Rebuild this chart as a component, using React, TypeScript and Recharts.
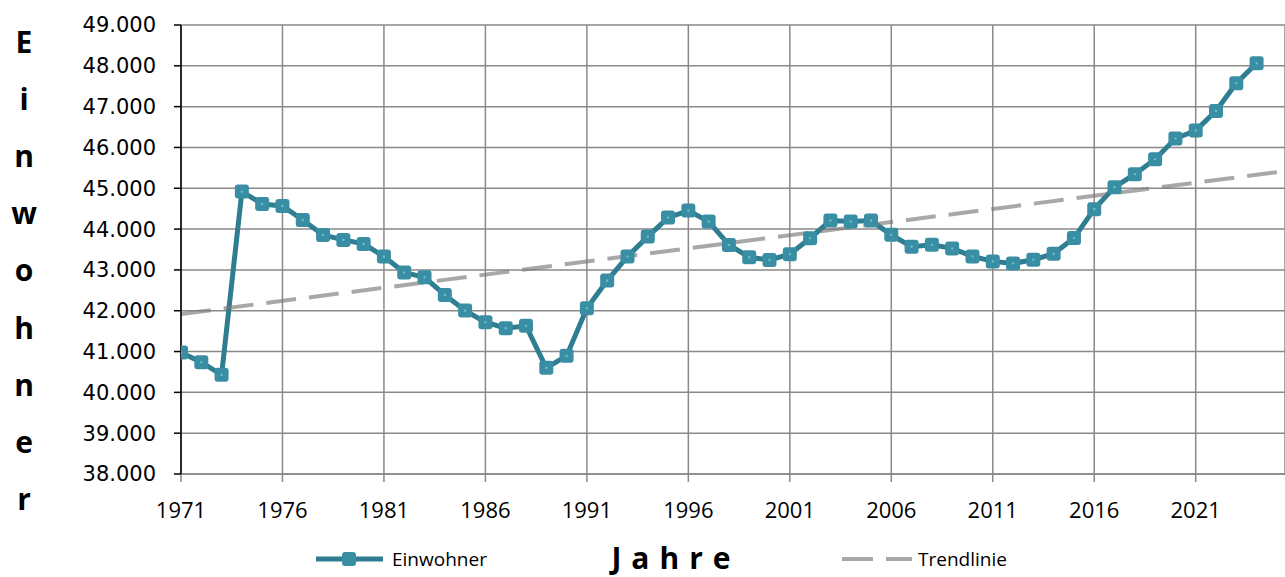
import { LineChart, Line, XAxis, YAxis, CartesianGrid } from "recharts";

const years = [
  1971, 1972, 1973, 1974, 1975, 1976, 1977, 1978, 1979, 1980,
  1981, 1982, 1983, 1984, 1985, 1986, 1987, 1988, 1989, 1990,
  1991, 1992, 1993, 1994, 1995, 1996, 1997, 1998, 1999, 2000,
  2001, 2002, 2003, 2004, 2005, 2006, 2007, 2008, 2009, 2010,
  2011, 2012, 2013, 2014, 2015, 2016, 2017, 2018, 2019, 2020,
  2021, 2022, 2023, 2024,
];

const einwohner = [
  40976, 40739, 40429, 44918, 44616, 44567, 44224, 43857, 43735, 43637,
  43327, 42935, 42820, 42388, 42004, 41718, 41571, 41629, 40600, 40894,
  42061, 42739, 43327, 43816, 44282, 44453, 44184, 43612, 43310, 43245,
  43384, 43776, 44208, 44184, 44208, 43860, 43570, 43617, 43527, 43331,
  43209, 43160, 43250, 43396, 43780, 44489, 45028, 45346, 45713, 46219,
  46414, 46896, 47573, 48062,
];

// Trendlinie: Endpunkte
const trendYears = [1971, 2025.4];
const trendValues = [41920, 45420];

const xTicks = [1971, 1976, 1981, 1986, 1991, 1996, 2001, 2006, 2011, 2016, 2021];
const yTicks = [38000, 39000, 40000, 41000, 42000, 43000, 44000, 45000, 46000, 47000, 48000, 49000];

const yTitle = ["E", "i", "n", "w", "o", "h", "n", "e", "r"];

const data = years.map((year, i) => ({ year, value: einwohner[i] }));
const trend = trendYears.map((year, i) => ({ year, value: trendValues[i] }));

const TEAL = "#2e7d91";
const MARKER = "#3a8ea4";
const GRID = "#898989";

const fmt = (v: number) => `${Math.floor(v / 1000)}.${String(v % 1000).padStart(3, "0")}`;

const SquareDot = (props: any) => {
  const { cx, cy, index } = props;
  if (cx == null || cy == null) return null;
  return (
    <g key={`dot-${index}`}>
      <rect x={cx - 7} y={cy - 7} width={14} height={14} rx={3} fill={MARKER} />
      <rect x={cx - 1} y={cy - 1} width={2} height={2} fill="#6cc3d6" />
    </g>
  );
};

export default function App() {
  return (
    <div style={{ position: "absolute", left: 0, top: 0, width: 1285, height: 577, background: "#fff" }}>
      <LineChart width={1285} height={577} data={data} margin={{ top: 25, right: 0, bottom: 0, left: 0 }}>
        <CartesianGrid stroke={GRID} strokeWidth={1.5} />
        <XAxis
          dataKey="year"
          type="number"
          domain={[1971, 2025.4]}
          ticks={xTicks}
          interval={0}
          allowDataOverflow
          height={103}
          axisLine={{ stroke: GRID, strokeWidth: 1.5 }}
          tickLine={{ stroke: GRID, strokeWidth: 1.5 }}
          tickSize={8}
          tickMargin={20}
          tick={{ fontSize: 22, fill: "#000", fontFamily: "'Open Sans', sans-serif" }}
        />
        <YAxis
          type="number"
          domain={[38000, 49000]}
          ticks={yTicks}
          interval={0}
          width={181}
          axisLine={{ stroke: "#000", strokeWidth: 1.5 }}
          tickLine={{ stroke: "#000", strokeWidth: 1.5 }}
          tickSize={7}
          tickMargin={18}
          tickFormatter={fmt}
          tick={{ fontSize: 21, fill: "#000", fontFamily: "'DejaVu Sans', sans-serif" }}
        />
        <Line
          type="linear"
          dataKey="value"
          stroke={TEAL}
          strokeWidth={5}
          dot={SquareDot}
          activeDot={false}
          isAnimationActive={false}
        />
        <Line
          data={trend}
          type="linear"
          dataKey="value"
          stroke="#7a7a7a"
          strokeOpacity={0.65}
          strokeWidth={4}
          strokeDasharray="30 13"
          dot={false}
          activeDot={false}
          isAnimationActive={false}
        />
      </LineChart>

      <svg width={1285} height={577} style={{ position: "absolute", left: 0, top: 0, pointerEvents: "none" }}>
        {yTitle.map((ch, i) => (
          <text
            key={i}
            x={24}
            y={53 + 57.1 * i}
            textAnchor="middle"
            fontFamily="'Open Sans', sans-serif"
            fontWeight={700}
            fontSize={30}
            fill="#000"
          >
            {ch}
          </text>
        ))}

        <line x1={316} y1={559} x2={383} y2={559} stroke={TEAL} strokeWidth={5} />
        <rect x={342} y={552} width={14} height={14} rx={3} fill={MARKER} />
        <text x={392} y={566} fontFamily="'Open Sans', sans-serif" fontSize={19} fill="#000">
          Einwohner
        </text>

        <text
          x={676}
          y={569}
          textAnchor="middle"
          fontFamily="'Open Sans', sans-serif"
          fontWeight={700}
          fontSize={30}
          letterSpacing={10}
          fill="#000"
        >
          Jahre
        </text>

        <line
          x1={842}
          y1={559}
          x2={912}
          y2={559}
          stroke="#7a7a7a"
          strokeOpacity={0.65}
          strokeWidth={4}
          strokeDasharray="31 13"
        />
        <text x={918} y={566} fontFamily="'Open Sans', sans-serif" fontSize={19} fill="#000">
          Trendlinie
        </text>
      </svg>
    </div>
  );
}
